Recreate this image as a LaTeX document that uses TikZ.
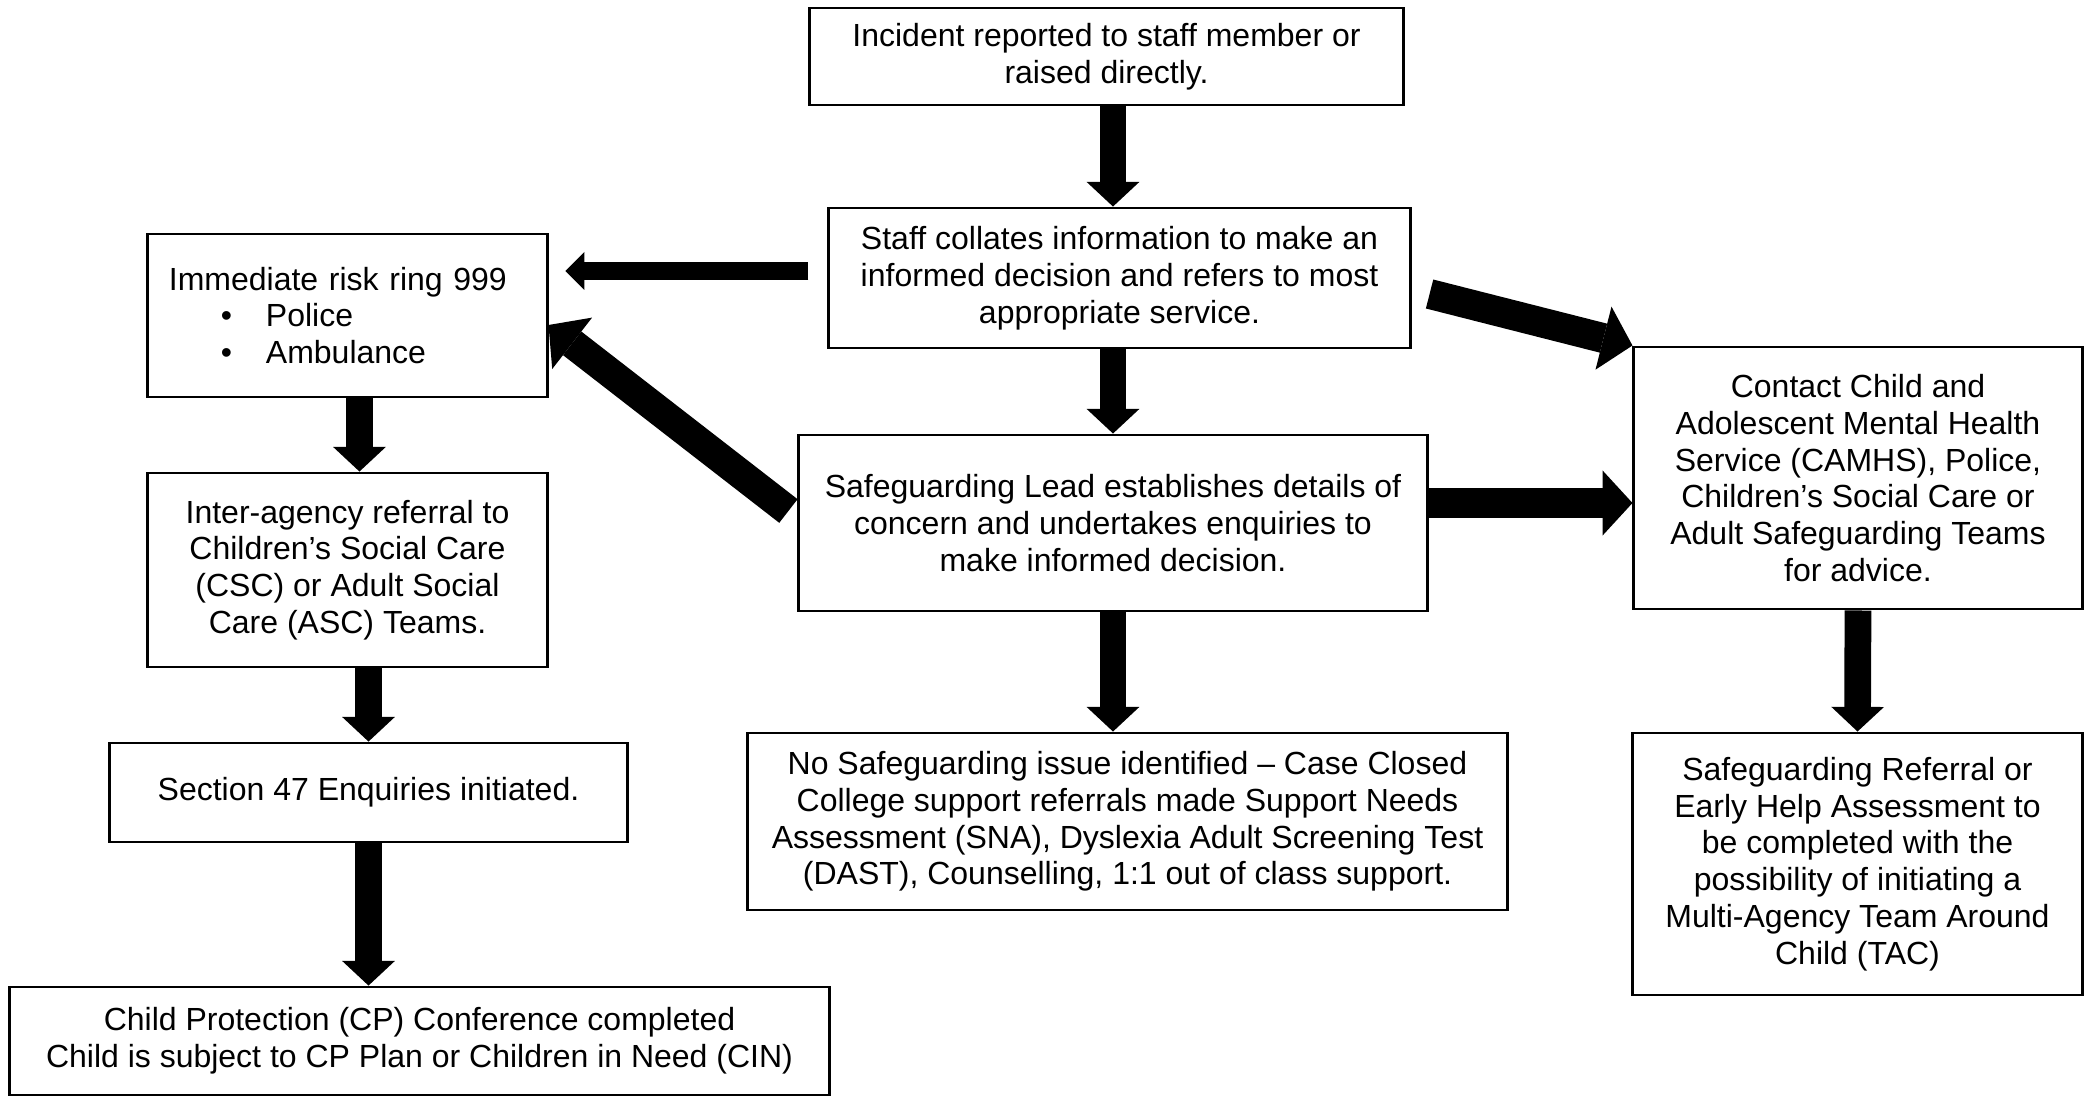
\documentclass[tikz,border=0pt]{standalone}
\usepackage{fontspec}
\setmainfont{Liberation Sans}
\usetikzlibrary{arrows.meta,calc}
\newcommand{\riskitem}[1]{\makebox[27.6pt][l]{\hspace*{14.8pt}\textbullet}#1}

\begin{document}
\begin{tikzpicture}[x=0.01cm,y=-0.01cm,
    box/.style={draw,line width=0.8pt,inner sep=0pt,align=center,font=\fontsize{9.1pt}{10.45pt}\selectfont},
    bigarrow/.style={line width=8.5pt,-{Triangle[width=18.5pt,length=8.5pt,line width=0pt]}},
    downarrow/.style={line width=7.6pt,-{Triangle[width=15pt,length=7pt,line width=0pt]}},
    thinarrow/.style={line width=5.2pt,-{Triangle[width=10.8pt,length=5.4pt,line width=0pt]}}]
    \useasboundingbox (0,0) rectangle (2090,1097);
    % Boxes
    \node[box,minimum width=5.93cm,minimum height=0.97cm](incident) at (1106.5,56.5){Incident reported to staff member or\\raised directly.};
    \node[box,minimum width=5.81cm,minimum height=1.40cm](staff) at (1119.5,278){Staff collates information to make an\\informed decision and refers to most\\appropriate service.};
    \node[box,minimum width=3.99cm,minimum height=1.63cm,text width=3.57cm,align=left](immediate) at (347.5,315.5){Immediate risk ring 999\\\riskitem{Police}\\\riskitem{Ambulance}};
    \node[box,minimum width=4.48cm,minimum height=2.62cm](camhs) at (1858,478){Contact Child and\\Adolescent Mental Health\\Service (CAMHS), Police,\\Children’s Social Care or\\Adult Safeguarding Teams\\for advice.};
    \node[box,minimum width=6.28cm,minimum height=1.76cm](lead) at (1113,523){Safeguarding Lead establishes details of\\concern and undertakes enquiries to\\make informed decision.};
    \node[box,minimum width=3.99cm,minimum height=1.94cm](inter) at (347.5,570){Inter-agency referral to\\Children’s Social Care\\(CSC) or Adult Social\\Care (ASC) Teams.};
    \node[box,minimum width=5.17cm,minimum height=0.99cm](section) at (368.5,792.5){Section 47 Enquiries initiated.};
    \node[box,minimum width=7.59cm,minimum height=1.77cm](nosafe) at (1127.5,821.5){No Safeguarding issue identified – Case Closed\\College support referrals made Support Needs\\Assessment (SNA), Dyslexia Adult Screening Test\\(DAST), Counselling, 1:1 out of class support.};
    \node[box,minimum width=4.49cm,minimum height=2.62cm](early) at (1857.5,864){Safeguarding Referral or\\Early Help Assessment to\\be completed with the\\possibility of initiating a\\Multi-Agency Team Around\\Child (TAC)};
    \node[box,minimum width=8.19cm,minimum height=1.08cm](cpconf) at (419.5,1041){Child Protection (CP) Conference completed\\Child is subject to CP Plan or Children in Need (CIN)};
    % Down the middle
    \draw[downarrow](incident.south -| lead)--(staff.north -| lead);
    \draw[downarrow](staff.south -| lead)--(lead.north);
    \draw[downarrow](lead.south)--(lead.south |- nosafe.north);
    % To the left
    \coordinate(staffout) at ([yshift=2pt]staff.west);
    \draw[thinarrow,shorten <=5.4pt,shorten >=4.8pt](staffout)--(staffout -| immediate.east);
    \draw[bigarrow]($(lead.west)+(-9,-12)$)--($(immediate.east)+(0,9.5)$);
    % To the right
    \draw[bigarrow]($(staff.east)+(18,16)$)--(camhs.north west);
    \coordinate(leadout) at ($(lead.east)+(0,-20)$);
    \draw[bigarrow](leadout)--(leadout -| camhs.west);
    \draw[downarrow](camhs.south)--(early.north);
    % Left column
    \draw[downarrow]([xshift=3.4pt]immediate.south)--([xshift=3.4pt]inter.north);
    \draw[downarrow](inter.south -| section)--(section.north);
    \draw[downarrow](section.south)--(cpconf.north -| section);
\end{tikzpicture}
\end{document}
